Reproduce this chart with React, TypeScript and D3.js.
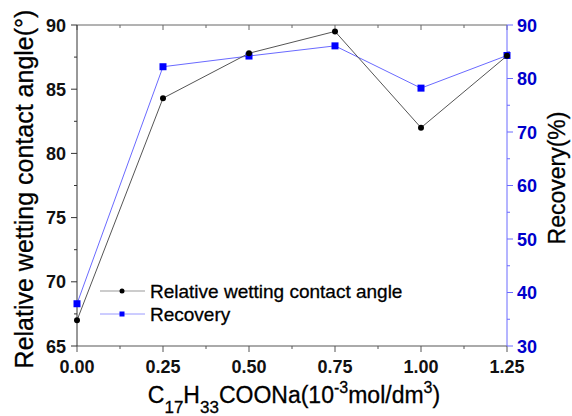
import React, { useEffect, useRef } from 'react';
import * as d3 from 'd3';

const concentration = [0, 0.25, 0.5, 0.75, 1.0, 1.25];
const contactAngle = [67.0, 84.3, 87.8, 89.5, 82.0, 87.6];
const recovery = [37.9, 82.2, 84.2, 86.1, 78.2, 84.3];
const xTicks = [0, 0.25, 0.5, 0.75, 1.0, 1.25];
const leftTicks = [65, 70, 75, 80, 85, 90];
const rightTicks = [30, 40, 50, 60, 70, 80, 90];

const W = 572;
const H = 416;
const margin = { top: 25, right: 65, bottom: 70, left: 77 };
const FONT = 'Liberation Sans, Arial, sans-serif';

export default function App() {
  const ref = useRef<SVGSVGElement>(null);

  useEffect(() => {
    const svg = d3.select(ref.current);
    svg.selectAll('*').remove();
    const iw = W - margin.left - margin.right;
    const ih = H - margin.top - margin.bottom;

    const x = d3.scaleLinear().domain([0, 1.25]).range([0, iw]);
    const yL = d3.scaleLinear().domain([65, 90]).range([ih, 0]);
    const yR = d3.scaleLinear().domain([30, 90]).range([ih, 0]);

    const g = svg.append('g')
      .attr('transform', 'translate(' + margin.left + ',' + margin.top + ')');

    // minor ticks every half step
    const xMinor = d3.range(0, 1.2501, 0.125);
    const lMinor = d3.range(65, 90.01, 2.5);
    const rMinor = d3.range(30, 90.01, 5);

    // top axis
    g.append('line').attr('x1', 0).attr('x2', iw).attr('y1', 0).attr('y2', 0)
      .attr('stroke', '#666').attr('stroke-width', 1);
    g.selectAll('.tt').data(xMinor).enter().append('line')
      .attr('x1', d => x(d)).attr('x2', d => x(d)).attr('y1', 0)
      .attr('y2', (d, i) => (i % 2 === 0 ? 5 : 3))
      .attr('stroke', '#666');

    // bottom axis
    g.append('line').attr('x1', 0).attr('x2', iw).attr('y1', ih).attr('y2', ih)
      .attr('stroke', '#aaa').attr('stroke-width', 2);
    g.selectAll('.bt').data(xMinor).enter().append('line')
      .attr('x1', d => x(d)).attr('x2', d => x(d)).attr('y1', ih)
      .attr('y2', (d, i) => ih + (i % 2 === 0 ? 6 : 3))
      .attr('stroke', '#555');
    g.selectAll('.bl').data(xTicks).enter().append('text')
      .attr('x', d => x(d)).attr('y', ih + 27)
      .attr('text-anchor', 'middle')
      .attr('font-family', FONT).attr('font-size', 18).attr('font-weight', 'bold')
      .attr('fill', '#111')
      .text(d => d.toFixed(2));

    // left axis
    g.append('line').attr('x1', 0).attr('x2', 0).attr('y1', 0).attr('y2', ih)
      .attr('stroke', '#333').attr('stroke-width', 1);
    g.selectAll('.lt').data(lMinor).enter().append('line')
      .attr('x1', 0).attr('x2', (d, i) => (i % 2 === 0 ? -6 : -3))
      .attr('y1', d => yL(d)).attr('y2', d => yL(d))
      .attr('stroke', '#333');
    g.selectAll('.ll').data(leftTicks).enter().append('text')
      .attr('x', -11).attr('y', d => yL(d) + 6.5)
      .attr('text-anchor', 'end')
      .attr('font-family', FONT).attr('font-size', 18).attr('font-weight', 'bold')
      .attr('fill', '#111')
      .text(d => d);

    // right axis
    g.append('line').attr('x1', iw).attr('x2', iw).attr('y1', 0).attr('y2', ih)
      .attr('stroke', '#6b6bff').attr('stroke-width', 1);
    g.selectAll('.rt').data(rMinor).enter().append('line')
      .attr('x1', iw).attr('x2', (d, i) => iw + (i % 2 === 0 ? 6 : 3))
      .attr('y1', d => yR(d)).attr('y2', d => yR(d))
      .attr('stroke', '#6b6bff');
    g.selectAll('.rl').data(rightTicks).enter().append('text')
      .attr('x', iw + 10).attr('y', d => yR(d) + 6.5)
      .attr('text-anchor', 'start')
      .attr('font-family', FONT).attr('font-size', 18).attr('font-weight', 'bold')
      .attr('fill', '#0000cc')
      .text(d => d);

    // series
    const angleLine = d3.line<number>()
      .x((d, i) => x(concentration[i]))
      .y(d => yL(d));
    const recLine = d3.line<number>()
      .x((d, i) => x(concentration[i]))
      .y(d => yR(d));

    g.append('path').datum(recovery)
      .attr('fill', 'none').attr('stroke', '#6a6aff').attr('stroke-width', 1)
      .attr('d', recLine);
    g.selectAll('.rm').data(recovery).enter().append('rect')
      .attr('x', (d, i) => x(concentration[i]) - 3.5)
      .attr('y', d => yR(d) - 3.5)
      .attr('width', 7).attr('height', 7)
      .attr('fill', '#0000ff');

    g.append('path').datum(contactAngle)
      .attr('fill', 'none').attr('stroke', '#555').attr('stroke-width', 1)
      .attr('d', angleLine);
    g.selectAll('.am').data(contactAngle).enter().append('circle')
      .attr('cx', (d, i) => x(concentration[i]))
      .attr('cy', d => yL(d))
      .attr('r', 3)
      .attr('fill', '#000');

    // legend
    const leg = g.append('g').attr('transform', 'translate(23,' + (291 - margin.top) + ')');
    leg.append('line').attr('x1', 0).attr('x2', 45).attr('y1', 0).attr('y2', 0)
      .attr('stroke', '#999');
    leg.append('circle').attr('cx', 22).attr('cy', 0).attr('r', 2.5).attr('fill', '#000');
    leg.append('text').attr('x', 50).attr('y', 7)
      .attr('font-family', FONT).attr('font-size', 19).attr('fill', '#000')
      .attr('stroke', '#000').attr('stroke-width', 0.3)
      .text('Relative wetting contact angle');
    leg.append('line').attr('x1', 0).attr('x2', 45).attr('y1', 23).attr('y2', 23)
      .attr('stroke', '#9a9aff');
    leg.append('rect').attr('x', 19.5).attr('y', 20.5).attr('width', 5).attr('height', 5)
      .attr('fill', '#0000ff');
    leg.append('text').attr('x', 50).attr('y', 30)
      .attr('font-family', FONT).attr('font-size', 19).attr('fill', '#000')
      .attr('stroke', '#000').attr('stroke-width', 0.3)
      .text('Recovery');

    // axis titles
    svg.append('text')
      .attr('transform', 'translate(33,189) rotate(-90)')
      .attr('text-anchor', 'middle')
      .attr('font-family', FONT).attr('font-size', 25).attr('fill', '#000')
      .attr('stroke', '#000').attr('stroke-width', 0.3)
      .text('Relative wetting contact angle(°)');

    svg.append('text')
      .attr('transform', 'translate(565,178) rotate(-90)')
      .attr('text-anchor', 'middle')
      .attr('font-family', FONT).attr('font-size', 23).attr('fill', '#000')
      .attr('stroke', '#000').attr('stroke-width', 0.3)
      .text('Recovery(%)');

    const xt = svg.append('text')
      .attr('x', 294).attr('y', 403)
      .attr('text-anchor', 'middle')
      .attr('font-family', FONT).attr('font-size', 23).attr('fill', '#000')
      .attr('stroke', '#000').attr('stroke-width', 0.3);
    xt.append('tspan').text('C');
    xt.append('tspan').attr('font-size', 17).attr('dy', 10).text('17');
    xt.append('tspan').attr('dy', -10).text('H');
    xt.append('tspan').attr('font-size', 17).attr('dy', 10).text('33');
    xt.append('tspan').attr('dy', -10).text('COONa(10');
    xt.append('tspan').attr('font-size', 16).attr('dy', -10).text('-3');
    xt.append('tspan').attr('dy', 10).text('mol/dm');
    xt.append('tspan').attr('font-size', 16).attr('dy', -10).text('3');
    xt.append('tspan').attr('dy', 10).text(')');
  }, []);

  return <svg ref={ref} width={W} height={H} style={{ position: 'absolute', left: 0, top: 0, background: '#fff' }} />;
}
